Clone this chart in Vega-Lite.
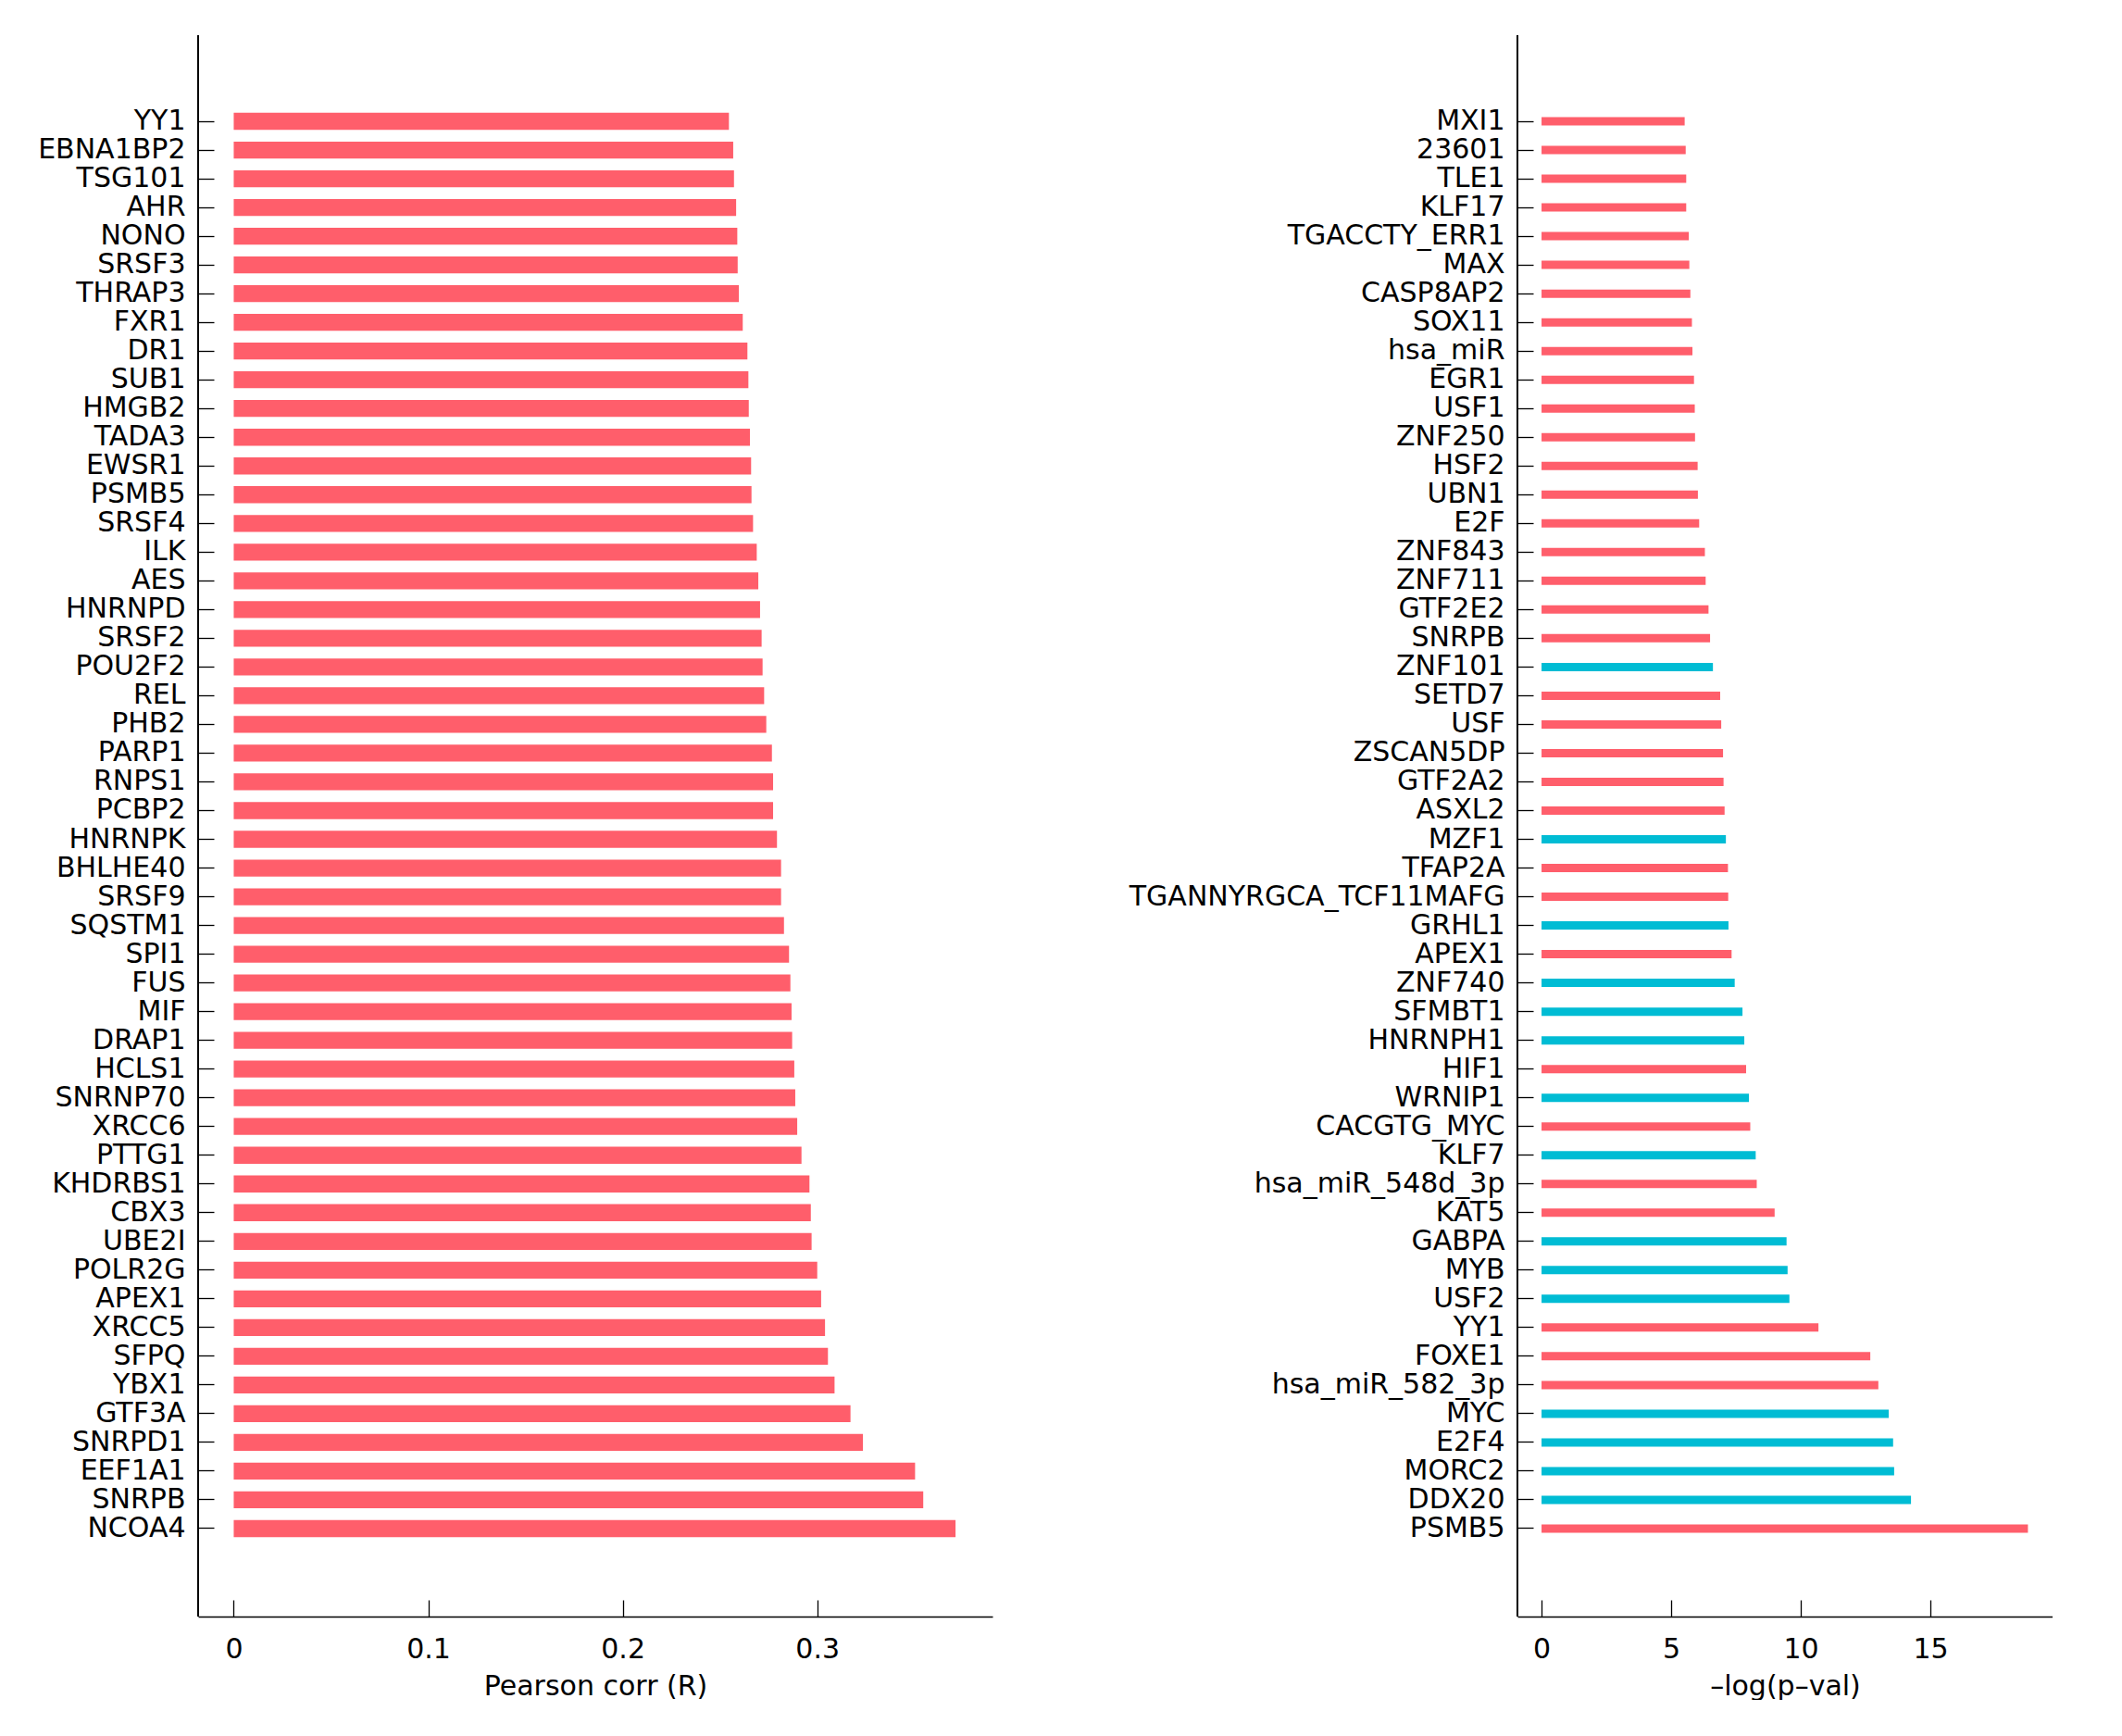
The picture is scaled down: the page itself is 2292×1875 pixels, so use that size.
{
  "$schema": "https://vega.github.io/schema/vega-lite/v6.json",
  "background": "white",
  "padding": {"left": 0, "top": 37, "right": 0, "bottom": 0},
  "config": {
    "view": {"stroke": null},
    "font": "DejaVu Sans",
    "axis": {
      "labelFont": "DejaVu Sans", "labelFontSize": 30, "labelColor": "black",
      "titleFont": "DejaVu Sans", "titleFontSize": 30, "titleFontWeight": "normal", "titleColor": "black",
      "domainColor": "black", "tickColor": "black", "domainWidth": 1.3, "tickWidth": 1.3, "grid": false
    }
  },
  "datasets": {
    "corr": [
      {"gene": "YY1", "r": 0.2546}, {"gene": "EBNA1BP2", "r": 0.2568}, {"gene": "TSG101", "r": 0.2572},
      {"gene": "AHR", "r": 0.2583}, {"gene": "NONO", "r": 0.2589}, {"gene": "SRSF3", "r": 0.2591},
      {"gene": "THRAP3", "r": 0.2597}, {"gene": "FXR1", "r": 0.2617}, {"gene": "DR1", "r": 0.2641},
      {"gene": "SUB1", "r": 0.2646}, {"gene": "HMGB2", "r": 0.2648}, {"gene": "TADA3", "r": 0.2654},
      {"gene": "EWSR1", "r": 0.2660}, {"gene": "PSMB5", "r": 0.2662}, {"gene": "SRSF4", "r": 0.2670},
      {"gene": "ILK", "r": 0.2689}, {"gene": "AES", "r": 0.2697}, {"gene": "HNRNPD", "r": 0.2706},
      {"gene": "SRSF2", "r": 0.2714}, {"gene": "POU2F2", "r": 0.2719}, {"gene": "REL", "r": 0.2727},
      {"gene": "PHB2", "r": 0.2738}, {"gene": "PARP1", "r": 0.2767}, {"gene": "RNPS1", "r": 0.2773},
      {"gene": "PCBP2", "r": 0.2773}, {"gene": "HNRNPK", "r": 0.2793}, {"gene": "BHLHE40", "r": 0.2814},
      {"gene": "SRSF9", "r": 0.2814}, {"gene": "SQSTM1", "r": 0.2829}, {"gene": "SPI1", "r": 0.2855},
      {"gene": "FUS", "r": 0.2862}, {"gene": "MIF", "r": 0.2868}, {"gene": "DRAP1", "r": 0.2871},
      {"gene": "HCLS1", "r": 0.2882}, {"gene": "SNRNP70", "r": 0.2887}, {"gene": "XRCC6", "r": 0.2897},
      {"gene": "PTTG1", "r": 0.2919}, {"gene": "KHDRBS1", "r": 0.2960}, {"gene": "CBX3", "r": 0.2967},
      {"gene": "UBE2I", "r": 0.2971}, {"gene": "POLR2G", "r": 0.3000}, {"gene": "APEX1", "r": 0.3020},
      {"gene": "XRCC5", "r": 0.3040}, {"gene": "SFPQ", "r": 0.3055}, {"gene": "YBX1", "r": 0.3089},
      {"gene": "GTF3A", "r": 0.3171}, {"gene": "SNRPD1", "r": 0.3235}, {"gene": "EEF1A1", "r": 0.3503},
      {"gene": "SNRPB", "r": 0.3545}, {"gene": "NCOA4", "r": 0.3711}
    ],
    "pval": [
      {"tf": "MXI1", "p": 5.52, "type": "up"}, {"tf": "23601", "p": 5.56, "type": "up"},
      {"tf": "TLE1", "p": 5.58, "type": "up"}, {"tf": "KLF17", "p": 5.58, "type": "up"},
      {"tf": "TGACCTY_ERR1", "p": 5.68, "type": "up"}, {"tf": "MAX", "p": 5.70, "type": "up"},
      {"tf": "CASP8AP2", "p": 5.74, "type": "up"}, {"tf": "SOX11", "p": 5.80, "type": "up"},
      {"tf": "hsa_miR", "p": 5.82, "type": "up"}, {"tf": "EGR1", "p": 5.88, "type": "up"},
      {"tf": "USF1", "p": 5.91, "type": "up"}, {"tf": "ZNF250", "p": 5.92, "type": "up"},
      {"tf": "HSF2", "p": 6.02, "type": "up"}, {"tf": "UBN1", "p": 6.03, "type": "up"},
      {"tf": "E2F", "p": 6.08, "type": "up"}, {"tf": "ZNF843", "p": 6.30, "type": "up"},
      {"tf": "ZNF711", "p": 6.33, "type": "up"}, {"tf": "GTF2E2", "p": 6.44, "type": "up"},
      {"tf": "SNRPB", "p": 6.50, "type": "up"}, {"tf": "ZNF101", "p": 6.61, "type": "down"},
      {"tf": "SETD7", "p": 6.89, "type": "up"}, {"tf": "USF", "p": 6.93, "type": "up"},
      {"tf": "ZSCAN5DP", "p": 7.00, "type": "up"}, {"tf": "GTF2A2", "p": 7.02, "type": "up"},
      {"tf": "ASXL2", "p": 7.06, "type": "up"}, {"tf": "MZF1", "p": 7.11, "type": "down"},
      {"tf": "TFAP2A", "p": 7.19, "type": "up"}, {"tf": "TGANNYRGCA_TCF11MAFG", "p": 7.20, "type": "up"},
      {"tf": "GRHL1", "p": 7.21, "type": "down"}, {"tf": "APEX1", "p": 7.33, "type": "up"},
      {"tf": "ZNF740", "p": 7.45, "type": "down"}, {"tf": "SFMBT1", "p": 7.75, "type": "down"},
      {"tf": "HNRNPH1", "p": 7.82, "type": "down"}, {"tf": "HIF1", "p": 7.89, "type": "up"},
      {"tf": "WRNIP1", "p": 8.00, "type": "down"}, {"tf": "CACGTG_MYC", "p": 8.05, "type": "up"},
      {"tf": "KLF7", "p": 8.26, "type": "down"}, {"tf": "hsa_miR_548d_3p", "p": 8.30, "type": "up"},
      {"tf": "KAT5", "p": 8.99, "type": "up"}, {"tf": "GABPA", "p": 9.45, "type": "down"},
      {"tf": "MYB", "p": 9.49, "type": "down"}, {"tf": "USF2", "p": 9.56, "type": "down"},
      {"tf": "YY1", "p": 10.68, "type": "up"}, {"tf": "FOXE1", "p": 12.68, "type": "up"},
      {"tf": "hsa_miR_582_3p", "p": 12.99, "type": "up"}, {"tf": "MYC", "p": 13.39, "type": "down"},
      {"tf": "E2F4", "p": 13.56, "type": "down"}, {"tf": "MORC2", "p": 13.60, "type": "down"},
      {"tf": "DDX20", "p": 14.25, "type": "down"}, {"tf": "PSMB5", "p": 18.76, "type": "up"}
    ]
  },
  "spacing": 20,
  "hconcat": [
    {
      "width": 858,
      "height": 1708,
      "data": {"name": "corr"},
      "layer": [
        {
          "mark": {"type": "bar", "color": "#FF5E6B"},
          "encoding": {
            "y": {
              "field": "gene", "type": "nominal", "sort": null,
              "scale": {"range": [77.5, 1628.5], "paddingInner": 0.41, "paddingOuter": 0.205},
              "axis": {"title": null, "domain": false, "tickSize": -17, "labelPadding": 31, "minExtent": 214, "maxExtent": 214, "labelLimit": 1000}
            },
            "x": {
              "field": "r", "type": "quantitative",
              "scale": {"domain": [-0.0183, 0.3901], "nice": false},
              "axis": {"title": "Pearson corr (R)", "values": [0, 0.1, 0.2, 0.3], "format": "~g", "tickSize": -18, "labelPadding": 38, "titlePadding": 10}
            },
            "x2": {"datum": 0}
          }
        },
        {
          "mark": {"type": "rule", "color": "black", "strokeWidth": 1.3},
          "encoding": {"x": {"datum": -0.0183}}
        }
      ]
    },
    {
      "width": 578,
      "height": 1708,
      "data": {"name": "pval"},
      "layer": [
        {
          "mark": {"type": "bar"},
          "encoding": {
            "y": {
              "field": "tf", "type": "nominal", "sort": null,
              "scale": {"range": [77.5, 1628.5], "paddingInner": 0.71, "paddingOuter": 0.355},
              "axis": {"title": null, "domain": false, "tickSize": -17, "labelPadding": 31, "minExtent": 547, "maxExtent": 547, "labelLimit": 1000}
            },
            "x": {
              "field": "p", "type": "quantitative",
              "scale": {"domain": [-0.93, 19.71], "nice": false},
              "axis": {"title": "–log(p–val)", "values": [0, 5, 10, 15], "format": "~g", "tickSize": -18, "labelPadding": 38, "titlePadding": 10}
            },
            "x2": {"datum": 0},
            "color": {
              "field": "type", "type": "nominal",
              "scale": {"domain": ["up", "down"], "range": ["#FF5E6B", "#00BCD4"]},
              "legend": null
            }
          }
        },
        {
          "mark": {"type": "rule", "color": "black", "strokeWidth": 1.3},
          "encoding": {"x": {"datum": -0.93}}
        }
      ]
    }
  ]
}
